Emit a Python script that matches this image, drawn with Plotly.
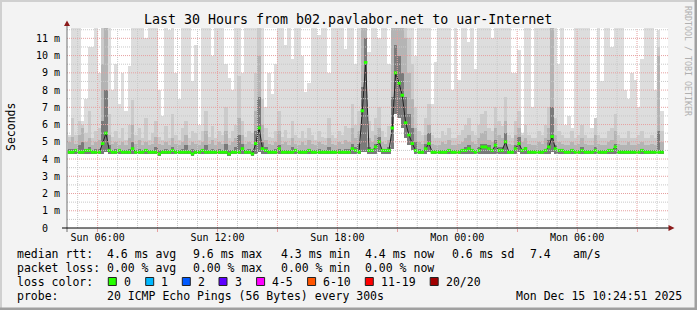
import plotly.graph_objects as go
from datetime import datetime, timedelta

# ---------------- data (values in milliseconds) ----------------
start_time = datetime(2025, 12, 14, 4, 30)   # first 10-minute step (Sun)
step_minutes = 10

ping_median = [
    4.4, 4.4, 4.5, 4.4, 4.4, 4.5, 4.5, 4.4, 4.4, 4.4,
    4.9, 5.5, 4.5, 4.4, 4.4, 4.5, 4.4, 4.4, 4.4, 4.6,
    4.4, 4.4, 4.4, 4.5, 4.4, 4.4, 4.4, 4.3, 4.4, 4.4,
    4.4, 4.5, 4.4, 4.4, 4.4, 4.4, 4.4, 4.3, 4.4, 4.4,
    4.5, 4.4, 4.4, 4.4, 4.4, 4.4, 4.4, 4.4, 4.3, 4.4,
    4.4, 4.4, 4.6, 4.4, 4.4, 4.3, 4.9, 5.8, 4.6, 4.5,
    4.4, 4.4, 4.4, 4.6, 4.4, 4.4, 4.4, 4.4, 4.5, 4.4,
    4.4, 4.4, 4.5, 4.4, 4.4, 4.4, 4.4, 4.4, 4.4, 4.4,
    4.4, 4.4, 4.4, 4.4, 4.4, 4.6, 4.5, 4.4, 6.8, 9.6,
    4.5, 4.5, 4.7, 5.0, 4.5, 4.5, 4.5, 5.8, 9.0, 8.4,
    7.7, 6.1, 5.4, 4.9, 4.5, 4.4, 4.4, 4.6, 4.9, 4.4,
    4.4, 4.4, 4.4, 4.4, 4.5, 4.4, 4.4, 4.4, 4.5, 4.5,
    4.6, 4.5, 4.4, 4.5, 4.7, 4.7, 4.6, 4.5, 4.8, 4.5,
    4.5, 5.0, 4.4, 4.4, 4.6, 4.9, 4.5, 4.6, 4.4, 4.4,
    4.4, 4.4, 4.4, 4.5, 4.7, 5.3, 4.6, 4.5, 4.5, 4.4,
    4.4, 4.5, 4.4, 4.4, 4.5, 4.4, 4.4, 4.4, 4.5, 4.4,
    4.4, 4.4, 4.5, 4.5, 4.7, 4.4, 4.4, 4.4, 4.4, 4.4,
    4.4, 4.4, 4.5, 4.4, 4.4, 4.4, 4.4, 4.4, 4.4,
]

ping_min = [
    4.3, 4.3, 4.3, 4.3, 4.3, 4.3, 4.3, 4.3, 4.3, 4.3,
    4.3, 4.4, 4.3, 4.3, 4.3, 4.3, 4.3, 4.3, 4.3, 4.3,
    4.3, 4.3, 4.3, 4.3, 4.3, 4.3, 4.3, 4.2, 4.3, 4.3,
    4.3, 4.3, 4.3, 4.3, 4.3, 4.3, 4.3, 4.2, 4.3, 4.3,
    4.3, 4.3, 4.3, 4.3, 4.3, 4.3, 4.3, 4.3, 4.2, 4.3,
    4.3, 4.3, 4.3, 4.3, 4.3, 4.2, 4.3, 4.4, 4.3, 4.3,
    4.3, 4.3, 4.3, 4.3, 4.3, 4.3, 4.3, 4.3, 4.3, 4.3,
    4.3, 4.3, 4.3, 4.3, 4.3, 4.3, 4.3, 4.3, 4.3, 4.3,
    4.3, 4.3, 4.3, 4.3, 4.3, 4.3, 4.3, 4.3, 4.4, 4.4,
    4.3, 4.3, 4.3, 4.4, 4.3, 4.3, 4.3, 4.6, 6.6, 6.4,
    5.8, 5.2, 4.8, 4.5, 4.3, 4.3, 4.3, 4.3, 4.4, 4.3,
    4.3, 4.3, 4.3, 4.3, 4.3, 4.3, 4.3, 4.3, 4.3, 4.3,
    4.3, 4.3, 4.3, 4.3, 4.3, 4.3, 4.3, 4.3, 4.3, 4.3,
    4.3, 4.3, 4.3, 4.3, 4.3, 4.4, 4.3, 4.3, 4.3, 4.3,
    4.3, 4.3, 4.3, 4.3, 4.3, 4.4, 4.3, 4.3, 4.3, 4.3,
    4.3, 4.3, 4.3, 4.3, 4.3, 4.3, 4.3, 4.3, 4.3, 4.3,
    4.3, 4.3, 4.3, 4.3, 4.3, 4.3, 4.3, 4.3, 4.3, 4.3,
    4.3, 4.3, 4.3, 4.3, 4.3, 4.3, 4.3, 4.3, 4.3,
]

ping_p65 = [
    4.6, 4.6, 4.6, 4.8, 5.0, 4.6, 4.7, 4.5, 4.6, 4.6,
    6.2, 8.0, 4.8, 4.5, 4.6, 4.6, 4.5, 4.5, 4.6, 5.0,
    4.5, 4.6, 4.5, 4.6, 4.5, 4.5, 4.7, 4.5, 4.5, 4.6,
    4.5, 4.7, 4.5, 4.5, 4.6, 4.8, 4.5, 4.6, 4.5, 4.5,
    4.6, 4.8, 4.5, 4.6, 4.5, 4.6, 4.5, 4.9, 4.5, 4.5,
    4.7, 5.4, 4.9, 4.5, 4.6, 4.5, 5.6, 7.6, 5.0, 4.7,
    4.5, 4.5, 4.6, 4.8, 4.5, 4.5, 4.5, 4.7, 4.6, 4.5,
    4.5, 4.5, 4.6, 4.5, 4.5, 4.6, 4.5, 4.5, 4.7, 4.5,
    4.5, 4.6, 4.5, 4.6, 4.6, 4.9, 4.7, 4.9, 8.2, 11.0,
    4.7, 4.6, 4.9, 5.3, 4.6, 4.6, 4.7, 7.6, 10.6, 10.0,
    9.0, 7.6, 6.6, 5.8, 5.0, 4.6, 4.5, 4.9, 5.5, 4.5,
    4.5, 4.5, 4.5, 4.5, 4.6, 4.5, 4.5, 4.5, 4.6, 4.7,
    4.8, 4.6, 4.5, 4.7, 4.9, 4.9, 4.8, 4.6, 5.1, 4.7,
    4.7, 5.5, 4.5, 4.5, 4.8, 5.3, 4.6, 4.7, 4.5, 4.5,
    4.5, 4.5, 4.5, 4.6, 5.1, 7.0, 4.8, 4.6, 4.6, 4.5,
    4.5, 4.6, 4.5, 4.5, 4.7, 4.5, 4.5, 4.5, 4.7, 4.5,
    4.5, 4.5, 4.6, 4.6, 4.9, 4.5, 4.5, 4.5, 4.5, 4.5,
    4.5, 4.5, 4.6, 4.5, 4.5, 4.5, 4.5, 5.6, 4.5,
]

ping_p85 = [
    5.0, 5.3, 4.9, 5.4, 5.8, 5.0, 5.2, 4.8, 5.0, 5.1,
    9.5, 12.0, 5.4, 4.9, 5.0, 4.8, 5.0, 4.8, 5.2, 6.0,
    4.9, 5.1, 4.8, 5.0, 4.8, 4.9, 5.3, 4.9, 4.8, 5.0,
    4.8, 5.2, 4.9, 4.8, 5.0, 5.4, 4.8, 5.0, 4.9, 4.8,
    5.0, 5.6, 4.9, 5.1, 4.8, 5.0, 4.9, 5.6, 4.8, 5.0,
    5.2, 6.4, 5.4, 4.9, 5.0, 4.9, 6.8, 10.0, 6.0, 5.1,
    4.9, 4.8, 5.0, 5.6, 4.9, 5.0, 4.8, 5.2, 4.9, 4.8,
    5.0, 4.8, 5.1, 4.9, 4.8, 5.0, 4.9, 4.8, 5.2, 4.9,
    4.8, 5.0, 4.9, 5.1, 5.0, 5.8, 5.2, 5.6, 12.0, 12.0,
    5.2, 5.0, 5.4, 5.8, 5.0, 4.9, 5.1, 12.0, 12.0, 12.0,
    12.0, 11.0, 9.0, 7.5, 5.8, 5.0, 4.9, 5.4, 6.0, 4.9,
    4.8, 4.8, 5.0, 4.9, 5.1, 4.8, 4.8, 4.9, 5.0, 5.2,
    5.4, 5.0, 4.9, 5.2, 5.5, 5.6, 5.1, 5.0, 5.8, 5.4,
    5.2, 6.2, 4.9, 4.8, 5.4, 5.8, 5.0, 5.2, 4.9, 4.8,
    4.8, 5.0, 4.9, 5.2, 5.8, 12.0, 5.4, 5.0, 4.9, 4.8,
    4.8, 5.0, 4.8, 4.9, 5.2, 4.9, 4.8, 4.8, 5.4, 4.9,
    4.8, 4.8, 5.0, 5.1, 5.6, 4.9, 4.8, 4.8, 5.0, 4.8,
    4.8, 4.9, 5.0, 4.8, 4.8, 4.9, 4.8, 10.0, 5.0,
]

ping_p95 = [
    5.3, 6.4, 5.4, 6.2, 6.0, 5.5, 6.8, 5.2, 5.6, 5.8,
    12.0, 12.0, 6.6, 5.3, 5.6, 5.2, 5.8, 5.1, 6.0, 7.4,
    5.4, 5.8, 5.2, 6.4, 5.1, 5.5, 6.2, 5.3, 5.1, 5.9,
    5.2, 6.6, 5.4, 5.1, 5.8, 6.2, 5.2, 5.6, 5.5, 5.1,
    5.6, 6.8, 5.3, 5.9, 5.2, 5.6, 5.4, 7.0, 5.2, 5.6,
    6.0, 8.8, 6.2, 5.3, 5.6, 5.5, 9.0, 12.0, 7.5, 5.8,
    5.3, 5.2, 5.6, 6.8, 5.3, 5.7, 5.2, 6.2, 5.4, 5.2,
    5.6, 5.2, 5.8, 5.4, 5.1, 5.6, 5.3, 5.2, 6.4, 5.4,
    5.2, 5.6, 5.4, 5.9, 5.8, 7.2, 6.0, 6.8, 12.0, 12.0,
    6.2, 5.6, 6.4, 7.0, 5.6, 5.3, 5.9, 12.0, 12.0, 12.0,
    12.0, 12.0, 11.0, 9.5, 7.0, 5.6, 5.4, 6.4, 7.2, 5.4,
    5.2, 5.2, 5.6, 5.4, 5.8, 5.2, 5.2, 5.4, 5.7, 6.0,
    6.4, 5.6, 5.4, 6.0, 6.6, 6.8, 5.8, 5.6, 7.0, 6.2,
    5.9, 7.6, 5.4, 5.2, 6.2, 6.8, 5.4, 6.0, 5.4, 5.2,
    5.2, 5.6, 5.4, 6.0, 7.0, 12.0, 6.4, 5.6, 5.4, 5.2,
    5.2, 5.6, 5.2, 5.4, 6.0, 5.4, 5.2, 5.2, 6.4, 5.4,
    5.2, 5.2, 5.6, 5.8, 6.6, 5.4, 5.2, 5.2, 5.6, 5.2,
    5.2, 5.4, 5.6, 5.2, 5.2, 5.4, 5.2, 10.5, 5.6,
]

ping_max = [
    5.4, 12.0, 12.0, 12.0, 6.2, 7.5, 10.5, 10.5, 12.0, 9.0,
    12.0, 12.0, 12.0, 8.0, 9.5, 7.2, 9.0, 6.8, 9.4, 12.0,
    12.0, 12.0, 12.0, 11.0, 12.0, 12.0, 12.0, 8.0, 6.5, 12.0,
    11.5, 12.0, 9.0, 7.5, 12.0, 12.0, 12.0, 8.5, 10.6, 6.0,
    12.0, 12.0, 12.0, 10.0, 12.0, 12.0, 12.0, 9.5, 8.7, 8.0,
    12.0, 12.0, 9.0, 12.0, 12.0, 12.0, 12.0, 12.0, 12.0, 7.0,
    9.0, 7.8, 9.5, 12.0, 12.0, 10.6, 12.0, 9.8, 12.0, 12.0,
    10.0, 7.9, 8.4, 12.0, 12.0, 11.2, 12.0, 12.0, 9.0, 12.0,
    12.0, 12.0, 12.0, 10.4, 12.0, 12.0, 9.5, 12.0, 12.0, 12.0,
    10.2, 12.0, 12.0, 11.0, 12.0, 12.0, 9.5, 12.0, 12.0, 12.0,
    12.0, 12.0, 12.0, 12.0, 10.0, 12.0, 12.0, 12.0, 12.0, 7.2,
    9.6, 12.0, 12.0, 12.0, 12.0, 8.0, 12.0, 8.6, 12.0, 12.0,
    10.8, 12.0, 9.2, 12.0, 12.0, 12.0, 12.0, 11.0, 12.0, 12.0,
    12.0, 12.0, 12.0, 9.0, 9.0, 10.3, 5.5, 12.0, 12.0, 7.0,
    12.0, 12.0, 12.0, 12.0, 12.0, 12.0, 12.0, 9.5, 12.0, 6.0,
    6.5, 5.8, 12.0, 12.0, 12.0, 12.0, 12.0, 5.8, 6.2, 12.0,
    8.5, 12.0, 12.0, 10.5, 12.0, 12.0, 12.0, 8.0, 7.5, 9.0,
    8.6, 7.0, 9.8, 12.0, 12.0, 12.0, 8.0, 11.5, 6.8,
]

y_tick_values = [0, 1, 2, 3, 4, 5, 6, 7, 8, 9, 10, 11]
y_tick_labels = ["0\u00a0\u00a0", "1 m", "2 m", "3 m", "4 m", "5 m", "6 m",
                 "7 m", "8 m", "9 m", "10 m", "11 m"]
x_tick_values = ["2025-12-14 06:00", "2025-12-14 09:00", "2025-12-14 12:00",
                 "2025-12-14 15:00", "2025-12-14 18:00", "2025-12-14 21:00",
                 "2025-12-15 00:00", "2025-12-15 03:00", "2025-12-15 06:00",
                 "2025-12-15 09:00"]
x_tick_labels = ["Sun 06:00", "", "Sun 12:00", "", "Sun 18:00", "",
                 "Mon 00:00", "", "Mon 06:00", ""]

title_text = "Last 30 Hours from b02.pavlabor.net to uar-Internet"
rtt_label = "median rtt:"
rtt_stats = ["4.6 ms avg", "9.6 ms max", "4.3 ms min", "4.4 ms now", "0.6 ms sd", "7.4", "am/s"]
loss_label = "packet loss:"
loss_stats = ["0.00 % avg", "0.00 % max", "0.00 % min", "0.00 % now"]
loss_color_label = "loss color:"
loss_names = ["0", "1", "2", "3", "4-5", "6-10", "11-19", "20/20"]
loss_colors = ["#26ff00", "#00b8ff", "#0059ff", "#5e00ff", "#ff00ff", "#ff5500", "#ff0000", "#a10000"]
probe_label = "probe:"
probe_text = "20 ICMP Echo Pings (56 Bytes) every 300s"
date_text = "Mon Dec 15 10:24:51 2025"

# ---------------- layout helpers ----------------
W, H = 697, 310
L, R, T, B = 67, 29, 28, 82
PW, PH = W - L - R, H - T - B
MONO = "DejaVu Sans Mono"


def PX(x):
    return (x - L) / PW


def PY(y):
    return (H - B - y) / PH


n = len(ping_median)
step = timedelta(minutes=step_minutes)
times = [start_time + step * i + step / 2 for i in range(n)]
bar_w = step_minutes * 60 * 1000 * 1.04

fig = go.Figure()

layers = [
    (ping_max, "#dddddd"),
    (ping_p95, "#cbcbcb"),
    (ping_p85, "#b4b4b4"),
    (ping_p65, "#7a7a7a"),
]
for top, col in layers:
    fig.add_trace(go.Bar(
        x=times, y=[t - b for t, b in zip(top, ping_min)], base=ping_min,
        width=bar_w, marker=dict(color=col, line=dict(width=0)),
        hoverinfo="skip", showlegend=False))

fig.add_trace(go.Scatter(
    x=times, y=ping_median, mode="lines",
    line=dict(color="#202020", width=1), hoverinfo="skip", showlegend=False))
fig.add_trace(go.Scatter(
    x=times, y=ping_median, mode="markers",
    marker=dict(symbol="line-ew", size=2.5, color=loss_colors[0],
                line=dict(color=loss_colors[0], width=3)),
    hoverinfo="skip", showlegend=False))

x_range = ["2025-12-14 04:28", "2025-12-15 10:33"]

shapes = []
# grid (drawn above the smoke, like rrdtool)
t = datetime(2025, 12, 14, 5, 0)
while t <= datetime(2025, 12, 15, 10, 0):
    major = (t.hour % 3 == 0)
    shapes.append(dict(type="line", xref="x", yref="paper", x0=t, x1=t, y0=0, y1=1,
                       line=dict(color="#e6a0a0" if major else "#c8c8c8", width=1, dash="1px,1px"),
                       layer="above"))
    t += timedelta(hours=1)
for k in range(1, 24):
    v = k * 0.5
    if v > 11.6:
        break
    major = (k % 2 == 0)
    shapes.append(dict(type="line", xref="paper", yref="y", x0=0, x1=1, y0=v, y1=v,
                       line=dict(color="#e6a0a0" if major else "#c8c8c8", width=1, dash="1px,1px"),
                       layer="above"))

# axes
shapes.append(dict(type="line", xref="paper", yref="paper", x0=PX(67), x1=PX(67),
                   y0=PY(232), y1=PY(24), line=dict(color="#707070", width=1), layer="above"))
shapes.append(dict(type="line", xref="paper", yref="paper", x0=PX(62), x1=PX(669),
                   y0=PY(228), y1=PY(228), line=dict(color="#000000", width=1), layer="above"))
arrow_col = "#8b1a1a"
shapes.append(dict(type="path", xref="paper", yref="paper",
                   path=f"M {PX(67)},{PY(20.5)} L {PX(64)},{PY(26)} L {PX(70)},{PY(26)} Z",
                   fillcolor=arrow_col, line=dict(width=0), layer="above"))
shapes.append(dict(type="path", xref="paper", yref="paper",
                   path=f"M {PX(674.5)},{PY(228)} L {PX(668.5)},{PY(225)} L {PX(668.5)},{PY(231)} Z",
                   fillcolor=arrow_col, line=dict(width=0), layer="above"))

# outer frame
shapes.append(dict(type="rect", xref="paper", yref="paper", x0=PX(0), x1=PX(697), y0=PY(0), y1=PY(2),
                   fillcolor="#d0d0d0", line=dict(width=0), layer="above"))
shapes.append(dict(type="rect", xref="paper", yref="paper", x0=PX(0), x1=PX(2), y0=PY(0), y1=PY(310),
                   fillcolor="#d0d0d0", line=dict(width=0), layer="above"))
shapes.append(dict(type="rect", xref="paper", yref="paper", x0=PX(0), x1=PX(697), y0=PY(307.5), y1=PY(310),
                   fillcolor="#a0a0a0", line=dict(width=0), layer="above"))
shapes.append(dict(type="rect", xref="paper", yref="paper", x0=PX(694.5), x1=PX(697), y0=PY(0), y1=PY(310),
                   fillcolor="#a0a0a0", line=dict(width=0), layer="above"))

# legend swatches
box_x = [108.3, 145.7, 182.3, 219.0, 256.6, 307.6, 365.3, 430.2]
for bx, col in zip(box_x, loss_colors):
    shapes.append(dict(type="rect", xref="paper", yref="paper",
                       x0=PX(bx), x1=PX(bx + 8), y0=PY(277.5), y1=PY(285.5),
                       fillcolor=col, line=dict(color="#222222", width=1), layer="above"))

annotations = []


def txt(x, y, s, size=11.5, anchor="left", color="#000000", angle=0):
    annotations.append(dict(xref="paper", yref="paper", x=PX(x), y=PY(y), text=s,
                            showarrow=False, xanchor=anchor, yanchor="middle",
                            textangle=angle, borderpad=0, borderwidth=0,
                            font=dict(family=MONO, size=size, color=color)))


txt(348, 19, title_text, size=13.3, anchor="center")
txt(11, 127, "Seconds", size=11.5, anchor="center", angle=-90)
txt(688, 61, "RRDTOOL / TOBI OETIKER", size=8.3, anchor="center", color="#b0b0b0", angle=90)

row_y = [254, 268, 282, 296.3]
stat_x = [107.4, 193.3, 281.0, 365.3, 451.6, 530.2, 573.3]
txt(16.7, row_y[0], rtt_label)
for sx, s in zip(stat_x, rtt_stats):
    txt(sx, row_y[0], s)
txt(16.7, row_y[1], loss_label)
for sx, s in zip(stat_x, loss_stats):
    txt(sx, row_y[1], s)
txt(16.7, row_y[2], loss_color_label)
for bx, s in zip(box_x, loss_names):
    txt(bx + 15.6, row_y[2], s)
txt(16.7, row_y[3], probe_label)
txt(107.4, row_y[3], probe_text)
txt(681.5, row_y[3], date_text, anchor="right")

fig.update_layout(
    width=W, height=H, autosize=False,
    margin=dict(l=L, r=R, t=T, b=B, pad=0),
    paper_bgcolor="#f3f3f3", plot_bgcolor="#ffffff",
    barmode="overlay", bargap=0,
    showlegend=False,
    shapes=shapes, annotations=annotations,
    xaxis=dict(type="date", range=x_range, tickmode="array",
               tickvals=x_tick_values, ticktext=x_tick_labels,
               showgrid=False, zeroline=False, showline=False,
               ticks="outside", ticklen=3, tickcolor="#e6a0a0", tickwidth=1,
               ticklabelstandoff=-3,
               tickfont=dict(family=MONO, size=10, color="#000000"),
               fixedrange=True),
    yaxis=dict(range=[0, 11.6], tickmode="array", tickvals=y_tick_values,
               ticktext=y_tick_labels, showgrid=False, zeroline=False, showline=False,
               ticks="", ticklabelstandoff=6,
               tickfont=dict(family=MONO, size=10, color="#000000"),
               fixedrange=True),
)

fig.write_html("out.html")
